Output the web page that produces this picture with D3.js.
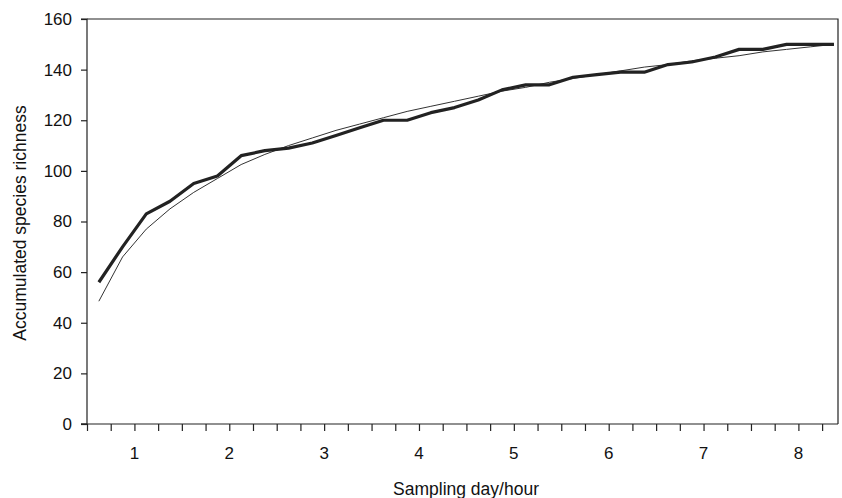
<!DOCTYPE html>
<html>
<head>
<meta charset="utf-8">
<script src="https://cdn.jsdelivr.net/npm/d3@7"></script>
<style>
body{margin:0;background:#fff;}
svg{display:block;font-family:"Liberation Sans",Arial,sans-serif;}
</style>
</head>
<body>
<svg id="c" width="842" height="498"></svg>
<script>
// Observed accumulated species richness (32 sampling intervals)
const observed = [56,70,83,88,95,98,106,108,109,111,114,117,120,120,123,125,128,132,134,134,137,138,139,139,142,143,145,148,148,150,150,150];
// Fitted curve
const fitted = [48.5,66,77,85,91.5,97,102.5,106.5,110,113,116,118.5,121,123.5,125.5,127.5,129.5,131.5,133,135,136.5,138,139.5,141,142,143.5,144.5,145.5,147,148,149,150];
const yTicks = [0,20,40,60,80,100,120,140,160];
const dayLabels = ["1","2","3","4","5","6","7","8"];

const svg = d3.select("#c");
const pL = 87, pR = 838, pT = 19, pB = 424;

const x = d3.scaleLinear().domain([-0.5, 31.17]).range([pL, pR]);
const y = d3.scaleLinear().domain([0,160]).range([pB, pT]);

// frame (top and right)
svg.append("path")
  .attr("d", `M${pL},${pT}H${pR}V${pB}`)
  .attr("fill","none").attr("stroke","#222").attr("stroke-width",1.2);

// y axis
const ya = svg.append("g").attr("transform",`translate(${pL},0)`)
  .call(d3.axisLeft(y).tickValues(yTicks).tickSize(6).tickPadding(9).tickFormat(d3.format("d")));
ya.select(".domain").attr("stroke","#222").attr("stroke-width",1.2).attr("d",`M-6,${pT}H0V${pB}H-6`);
ya.selectAll(".tick line").attr("stroke","#222").attr("stroke-width",1.2);
ya.selectAll("text").attr("font-size",17).attr("fill","#111").attr("font-family","Liberation Sans, Arial, sans-serif");

// x axis
const tickPos = d3.range(0,32).map(k => k - 0.5);
const xa = svg.append("g").attr("transform",`translate(0,${pB})`)
  .call(d3.axisBottom(x).tickValues(tickPos).tickSize(7).tickFormat(""));
xa.select(".domain").attr("stroke","#222").attr("stroke-width",1.2).attr("d",`M${pL-6},0H${pR}`);
xa.selectAll(".tick line").attr("stroke","#222").attr("stroke-width",1.2);

// day labels
svg.append("g").selectAll("text").data(dayLabels).join("text")
  .attr("x",(d,i)=>x(4*(i+1)-2.5))
  .attr("y",pB+35)
  .attr("text-anchor","middle")
  .attr("font-size",17).attr("fill","#111")
  .text(d=>d);

// lines
const line = d3.line().x((d,i)=>x(i)).y(d=>y(d));
svg.append("path").datum(fitted).attr("d",line)
  .attr("fill","none").attr("stroke","#333").attr("stroke-width",1);
svg.append("path").datum(observed).attr("d",line)
  .attr("fill","none").attr("stroke","#222").attr("stroke-width",3.2).attr("stroke-linejoin","round");

// axis titles
svg.append("text").attr("x",466).attr("y",495)
  .attr("text-anchor","middle").attr("font-size",17.5).attr("fill","#111")
  .text("Sampling day/hour");
svg.append("text").attr("transform",`translate(26,223) rotate(-90)`)
  .attr("text-anchor","middle").attr("font-size",17.5).attr("fill","#111")
  .text("Accumulated species richness");
</script>
</body>
</html>
